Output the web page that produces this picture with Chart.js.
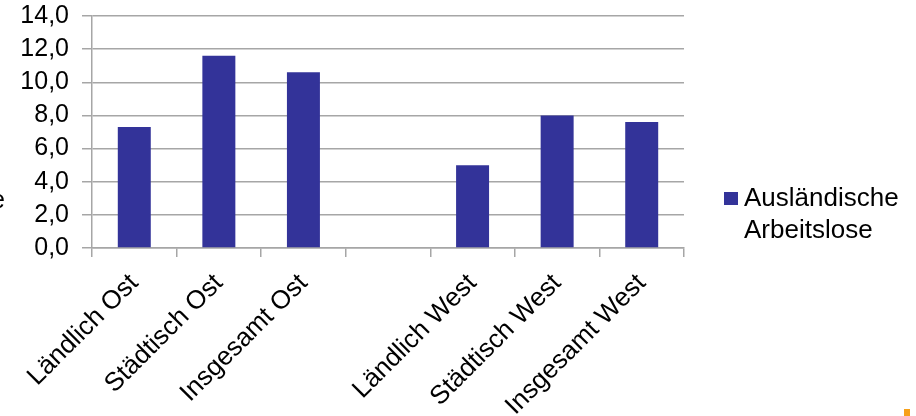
<!DOCTYPE html>
<html>
<head>
<meta charset="utf-8">
<script src="https://cdn.jsdelivr.net/npm/chart.js@4.4.0/dist/chart.umd.min.js"></script>
<style>
  html, body { margin: 0; padding: 0; background: #fff; }
  #wrap { width: 916px; height: 416px; position: relative; }
</style>
</head>
<body>
<div id="wrap"><canvas id="chart" width="916" height="416"></canvas></div>
<script>
// Daten (Anteil in %)
const categories = ['Ländlich Ost', 'Städtisch Ost', 'Insgesamt Ost', '', 'Ländlich West', 'Städtisch West', 'Insgesamt West'];
const auslaendische = [7.3, 11.6, 10.6, null, 5.0, 8.0, 7.6];
const yTicks = [0, 2, 4, 6, 8, 10, 12, 14];
const seriesLabel = ['Ausländische', 'Arbeitslose'];
const yTitle = 'Quote';

const FONT = '"Liberation Sans", Arial, sans-serif';
const BAR = '#333399';
const GRID = '#a6a6a6';

// legend + cut-off axis title + corner mark
const extras = {
  id: 'extras',
  afterDraw(chart) {
    const ctx = chart.ctx;
    ctx.save();
    ctx.fillStyle = BAR;
    ctx.fillRect(724, 192, 14, 13);
    ctx.fillStyle = '#000';
    ctx.font = '26px ' + FONT;
    ctx.textAlign = 'left';
    ctx.textBaseline = 'alphabetic';
    ctx.fillText(seriesLabel[0], 744, 206);
    ctx.fillText(seriesLabel[1], 744, 238);

    ctx.font = '25px ' + FONT;
    ctx.textAlign = 'right';
    ctx.fillText(yTitle, 5, 208);

    ctx.fillStyle = '#f7a11a';
    ctx.fillRect(904, 409, 6, 7);
    ctx.restore();
  }
};

new Chart(document.getElementById('chart'), {
  type: 'bar',
  data: {
    labels: categories,
    datasets: [{
      label: seriesLabel.join(' '),
      data: auslaendische,
      backgroundColor: BAR,
      borderWidth: 0,
      categoryPercentage: 1.0,
      barPercentage: 0.39
    }]
  },
  options: {
    responsive: false,
    animation: false,
    layout: { padding: { top: 16, right: 232, left: 0, bottom: 0 } },
    plugins: {
      legend: { display: false },
      tooltip: { enabled: false }
    },
    scales: {
      x: {
        afterFit: s => { s.height = 168; s.paddingLeft = 0; s.paddingRight = 0; },
        grid: {
          offset: true,
          drawOnChartArea: false,
          drawTicks: true,
          tickLength: 9,
          color: GRID,
          lineWidth: 1.5
        },
        border: { color: GRID, width: 1.5 },
        ticks: {
          color: '#000',
          font: { family: FONT, size: 26 },
          minRotation: 45,
          maxRotation: 45,
          autoSkip: false,
          padding: 11
        }
      },
      y: {
        min: 0,
        max: 14,
        afterFit: s => { s.width = 92; s.paddingTop = 0; s.paddingBottom = 0; },
        afterBuildTicks: s => { s.ticks = yTicks.map(v => ({ value: v })); },
        grid: {
          color: GRID,
          lineWidth: 1.5,
          tickLength: 10
        },
        border: { color: GRID, width: 1.5 },
        ticks: {
          color: '#000',
          font: { family: FONT, size: 25 },
          padding: 13,
          autoSkip: false,
          callback: v => v.toFixed(1).replace('.', ',')
        }
      }
    }
  },
  plugins: [extras]
});
</script>
</body>
</html>
